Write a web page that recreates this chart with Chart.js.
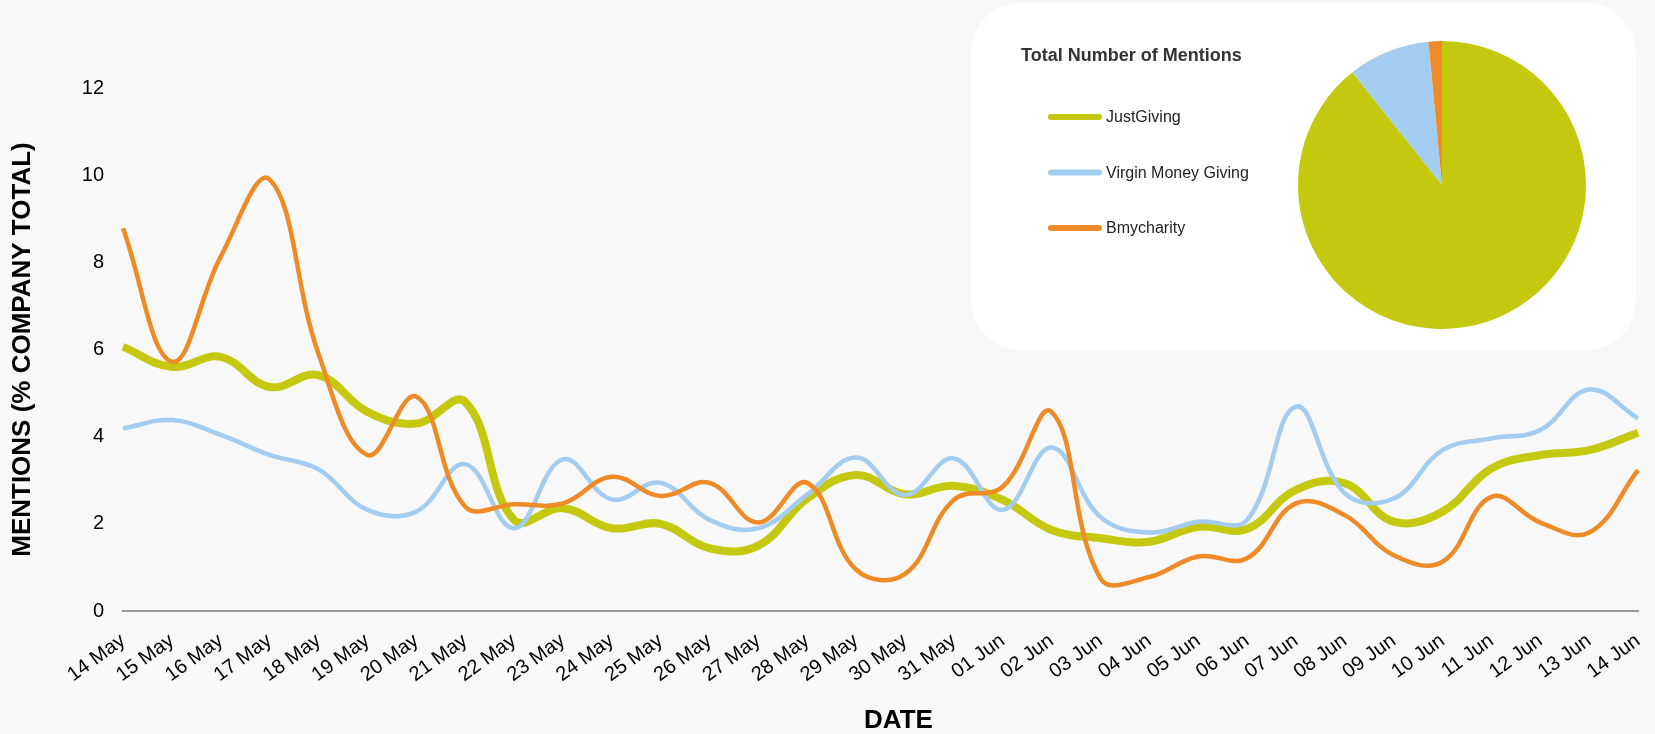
<!DOCTYPE html>
<html>
<head>
<meta charset="utf-8">
<title>Mentions</title>
<script src="https://cdn.jsdelivr.net/npm/chart.js@4.4.1/dist/chart.umd.min.js"></script>
<style>
  html, body { margin: 0; padding: 0; background: #f8f8f8; }
  #wrap { position: relative; width: 1655px; height: 734px; overflow: hidden; }
  #lineChart { position: absolute; left: 0; top: 0; }
  #pieBox { position: absolute; left: 971px; top: 3px; width: 665px; height: 347px; background: #fff; border-radius: 50px; }
  #pieChart { position: absolute; left: 0; top: 0; }
</style>
</head>
<body>
<div id="wrap">
  <canvas id="lineChart" width="1655" height="734"></canvas>
  <div id="pieBox"><canvas id="pieChart" width="665" height="347"></canvas></div>
</div>
<script>
const dates = ['14 May', '15 May', '16 May', '17 May', '18 May', '19 May', '20 May', '21 May',
  '22 May', '23 May', '24 May', '25 May', '26 May', '27 May', '28 May', '29 May', '30 May',
  '31 May', '01 Jun', '02 Jun', '03 Jun', '04 Jun', '05 Jun', '06 Jun', '07 Jun', '08 Jun',
  '09 Jun', '10 Jun', '11 Jun', '12 Jun', '13 Jun', '14 Jun'];

// mentions, % of each company's total
const justGiving = [6.06, 5.6, 5.83, 5.14, 5.41, 4.57, 4.3, 4.8, 2.09, 2.36, 1.9, 2.0,
  1.44, 1.5, 2.58, 3.12, 2.68, 2.87, 2.55, 1.86, 1.67, 1.59, 1.93, 1.88, 2.78, 2.93,
  2.05, 2.28, 3.27, 3.58, 3.69, 4.09];
const virginMoneyGiving = [4.19, 4.38, 4.04, 3.58, 3.25, 2.32, 2.28, 3.37, 1.9, 3.48, 2.56, 2.94,
  2.09, 1.9, 2.67, 3.52, 2.66, 3.5, 2.32, 3.75, 2.16, 1.8, 2.05, 2.09, 4.69, 2.7,
  2.58, 3.69, 3.96, 4.15, 5.08, 4.42];
const bmycharity = [8.78, 5.72, 8.13, 9.9, 5.9, 3.58, 4.92, 2.4, 2.45, 2.47, 3.08, 2.64,
  2.94, 2.03, 2.94, 0.95, 0.85, 2.55, 2.85, 4.57, 0.75, 0.78, 1.25, 1.21, 2.47, 2.2,
  1.28, 1.13, 2.62, 2.03, 1.8, 3.23];

const pieLabels = ['JustGiving', 'Virgin Money Giving', 'Bmycharity'];
const totalMentions = [89.3, 9.2, 1.5];
const pieTitle = 'Total Number of Mentions';
const xTitle = 'DATE';

const GREEN = '#c4c910';
const BLUE = '#a2cdf0';
const ORANGE = '#ef8b26';
const FONT = '"Liberation Sans", Arial, Helvetica, sans-serif';

Chart.defaults.font.family = FONT;
Chart.defaults.color = '#000';

// x axis title sits a little right of the plot centre in the original
const dateTitle = {
    id: 'dateTitle',
    afterDraw(chart) {
        const ctx = chart.ctx;
        const area = chart.chartArea;
        ctx.save();
        ctx.font = 'bold 26px ' + FONT;
        ctx.fillStyle = '#000';
        ctx.textAlign = 'center';
        ctx.textBaseline = 'middle';
        ctx.fillText(xTitle, (area.left + area.right) / 2 + 18, chart.height - 13);
        ctx.restore();
    }
};

new Chart(document.getElementById('lineChart'), {
    type: 'line',
    data: {
        labels: dates,
        datasets: [
            { label: 'Bmycharity', data: bmycharity, borderColor: ORANGE, borderWidth: 4.5, order: 0 },
            { label: 'Virgin Money Giving', data: virginMoneyGiving, borderColor: BLUE, borderWidth: 4.5, order: 1 },
            { label: 'JustGiving', data: justGiving, borderColor: GREEN, borderWidth: 8, order: 2 }
        ]
    },
    options: {
        responsive: false,
        animation: false,
        layout: { padding: { top: 88, right: 17, left: 0, bottom: 0 } },
        elements: {
            point: { radius: 0 },
            line: { tension: 0.4, fill: false }
        },
        plugins: {
            legend: { display: false },
            tooltip: { enabled: false }
        },
        scales: {
            x: {
                grid: { display: false, drawTicks: false },
                border: { color: '#999', width: 2 },
                ticks: { autoSkip: false, maxRotation: 36, minRotation: 36, padding: 18, font: { size: 20 } },
                afterFit: scale => {
                    scale.height = 123;
                    scale.paddingRight = 0;
                    scale.paddingLeft = 0;
                }
            },
            y: {
                min: 0,
                max: 12,
                grid: { display: false, drawTicks: false },
                border: { display: false },
                ticks: { stepSize: 2, padding: 19, font: { size: 20 } },
                title: {
                    display: true, text: 'MENTIONS (% COMPANY TOTAL)',
                    font: { size: 26, weight: 'bold' },
                    padding: { top: 7, bottom: 0 }
                },
                afterFit: scale => { scale.width = 123; }
            }
        }
    },
    plugins: [dateTitle]
});

// legend for the pie, drawn on the left side of the white box
const pieLegend = {
    id: 'pieLegend',
    afterDraw(chart) {
        const ctx = chart.ctx;
        const colors = chart.data.datasets[0].backgroundColor;
        ctx.save();
        ctx.textBaseline = 'middle';
        ctx.textAlign = 'left';
        ctx.fillStyle = '#333';
        ctx.font = 'bold 18px ' + FONT;
        ctx.fillText(pieTitle, 50, 53);
        ctx.font = '16px ' + FONT;
        chart.data.labels.forEach((label, i) => {
            const y = 114 + i * 55.5;
            ctx.strokeStyle = colors[i];
            ctx.lineWidth = 6;
            ctx.lineCap = 'round';
            ctx.beginPath();
            ctx.moveTo(80, y);
            ctx.lineTo(128, y);
            ctx.stroke();
            ctx.fillStyle = '#222';
            ctx.fillText(label, 135, y + 1);
        });
        ctx.restore();
    }
};

new Chart(document.getElementById('pieChart'), {
    type: 'pie',
    data: {
        labels: pieLabels,
        datasets: [{
            data: totalMentions,
            backgroundColor: [GREEN, BLUE, ORANGE],
            borderWidth: 0
        }]
    },
    options: {
        responsive: false,
        animation: false,
        layout: { padding: { left: 327, right: 50, top: 38, bottom: 21 } },
        plugins: {
            legend: { display: false },
            tooltip: { enabled: false }
        }
    },
    plugins: [pieLegend]
});
</script>
</body>
</html>
